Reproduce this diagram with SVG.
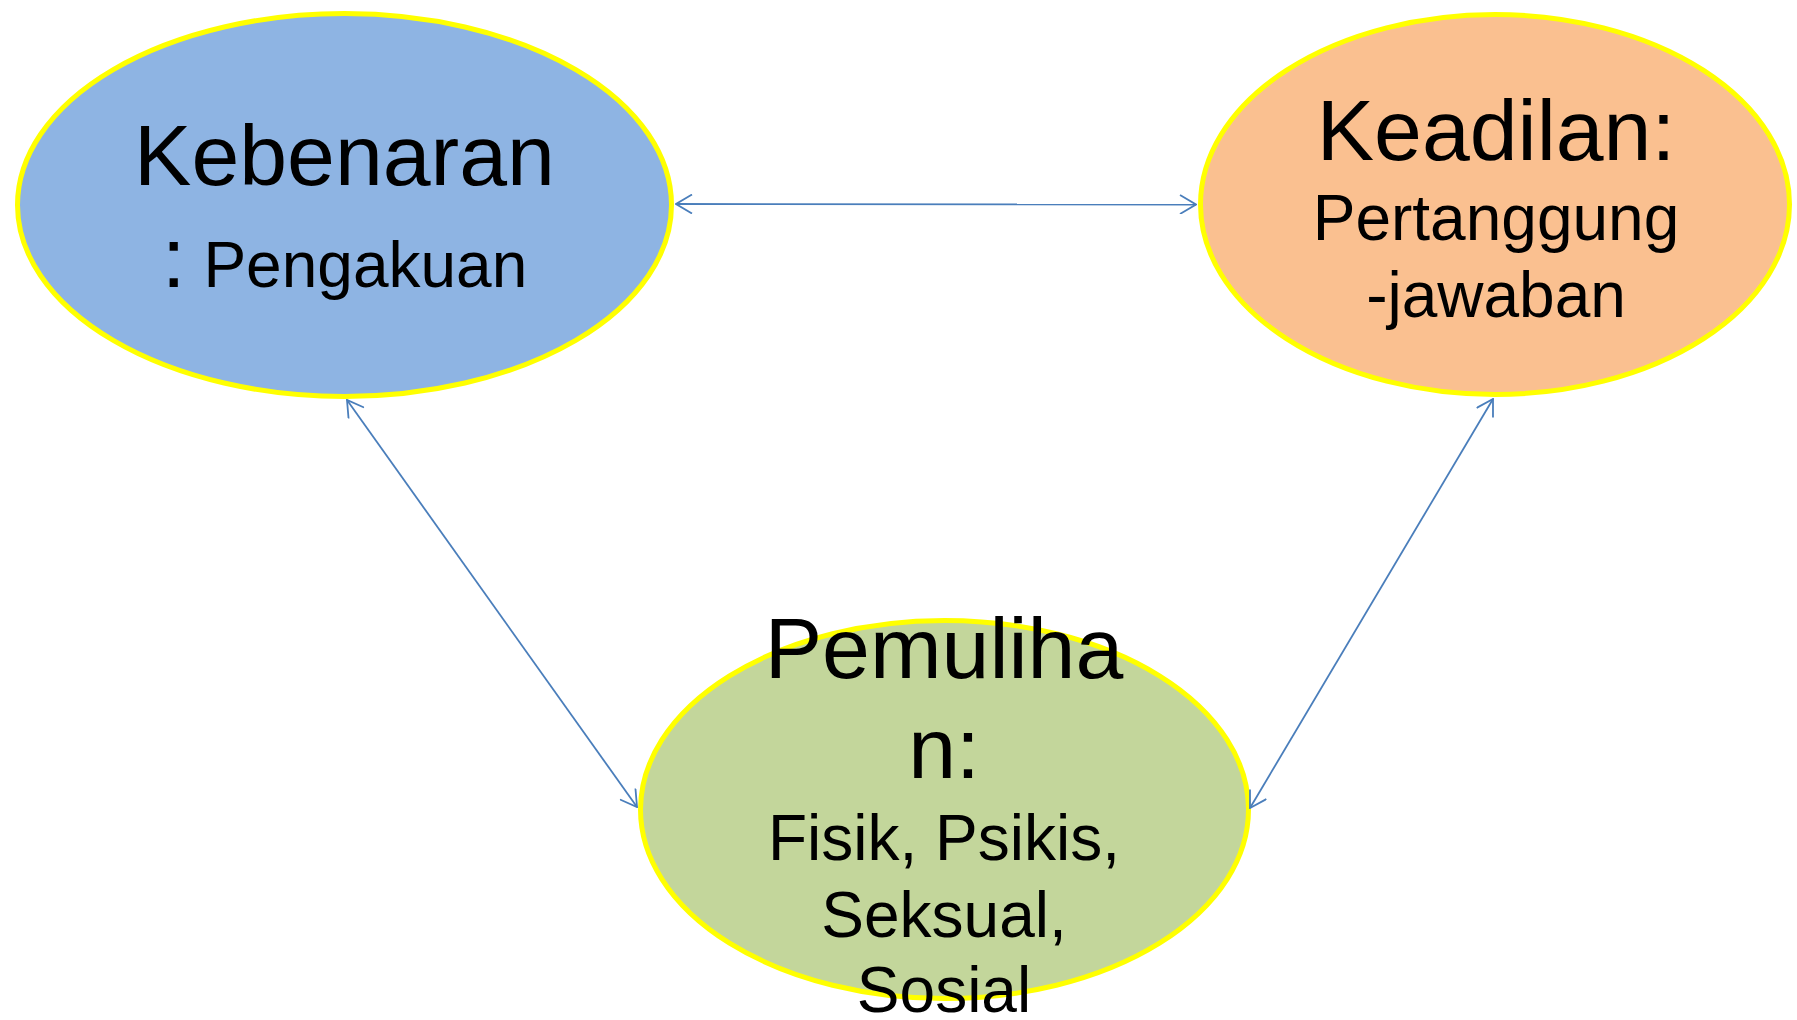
<svg xmlns="http://www.w3.org/2000/svg" width="1797" height="1020" viewBox="0 0 1797 1020">
  <style>
    .node { stroke: #FFFF00; stroke-width: 5; }
    .big { font-family: "Liberation Sans", Arial, sans-serif; font-size: 86px; fill: #000000; }
    .small { font-family: "Liberation Sans", Arial, sans-serif; font-size: 64px; fill: #000000; }
    .conn { stroke: #4A7EBB; stroke-width: 1.8; fill: none; }
  </style>
  <defs>
    <marker id="arr" viewBox="0 0 18 20" refX="17" refY="10" markerWidth="18" markerHeight="20" markerUnits="userSpaceOnUse" orient="auto-start-reverse">
      <path d="M1,0.5 L17,10 L1,19.5" fill="none" stroke="#4A7EBB" stroke-width="1.8"/>
    </marker>
  </defs>
  <rect width="1797" height="1020" fill="#FFFFFF"/>

  <g id="kebenaran">
    <ellipse class="node" cx="344.5" cy="205" rx="327" ry="191.5" fill="#8EB4E3"/>
    <text class="big" x="344.5" y="185" text-anchor="middle">Kebenaran</text>
    <text x="344.5" y="287" text-anchor="middle"><tspan class="big">:</tspan><tspan class="small"> Pengakuan</tspan></text>
  </g>

  <g id="keadilan">
    <ellipse class="node" cx="1495" cy="204.5" rx="294.5" ry="190" fill="#FAC090"/>
    <text class="big" x="1496" y="160" text-anchor="middle">Keadilan:</text>
    <text class="small" x="1496" y="240" text-anchor="middle">Pertanggung</text>
    <text class="small" x="1496" y="317" text-anchor="middle">-jawaban</text>
  </g>

  <g id="pemulihan">
    <ellipse class="node" cx="944.5" cy="809.5" rx="304" ry="189" fill="#C3D69B"/>
    <text class="big" x="944" y="678" text-anchor="middle">Pemuliha</text>
    <text class="big" x="944" y="778" text-anchor="middle">n:</text>
    <text class="small" x="944" y="860" text-anchor="middle">Fisik, Psikis,</text>
    <text class="small" x="944" y="937" text-anchor="middle">Seksual,</text>
    <text class="small" x="944" y="1012" text-anchor="middle">Sosial</text>
  </g>

  <g id="connectors">
    <line class="conn" x1="676" y1="204" x2="1196" y2="204.5" marker-start="url(#arr)" marker-end="url(#arr)"/>
    <line class="conn" x1="347" y1="400" x2="637" y2="807" marker-start="url(#arr)" marker-end="url(#arr)"/>
    <line class="conn" x1="1493" y1="399" x2="1250" y2="808" marker-start="url(#arr)" marker-end="url(#arr)"/>
  </g>
</svg>
